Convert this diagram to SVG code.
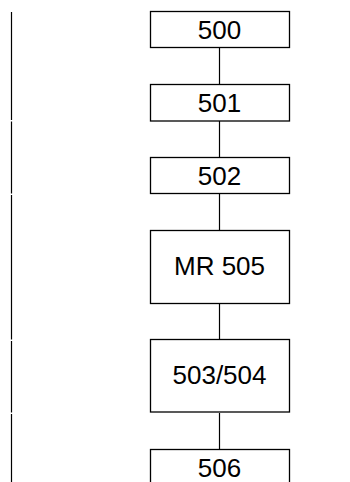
<svg xmlns="http://www.w3.org/2000/svg" width="350" height="482" viewBox="0 0 350 482">
<style>
.box{fill:#fff;stroke:#000;stroke-width:1.3}
.lbl{font-family:"Liberation Sans",Arial,sans-serif;font-size:26px;fill:#000;text-anchor:middle}
.con{stroke:#000;stroke-width:1.2;fill:none}
</style>
<rect width="350" height="482" fill="#fff"/>
<g id="margin" class="con">
<line x1="11.5" y1="12" x2="11.5" y2="120"/>
<line x1="11.5" y1="121.5" x2="11.5" y2="193.5"/>
<line x1="11.5" y1="195" x2="11.5" y2="339.5"/>
<line x1="11.5" y1="341" x2="11.5" y2="412.5"/>
<line x1="11.5" y1="414" x2="11.5" y2="482"/>
</g>
<g id="connectors" class="con">
<line x1="219.5" y1="47.5" x2="219.5" y2="84.5"/>
<line x1="219.5" y1="121" x2="219.5" y2="157.5"/>
<line x1="219.5" y1="194" x2="219.5" y2="230.5"/>
<line x1="219.5" y1="303.5" x2="219.5" y2="339.5"/>
<line x1="219.5" y1="413" x2="219.5" y2="449.5"/>
</g>
<g id="n500"><rect class="box" x="150.5" y="11.5" width="139" height="36"/><text class="lbl" x="219.5" y="39.3">500</text></g>
<g id="n501"><rect class="box" x="150.5" y="84.5" width="139" height="36.5"/><text class="lbl" x="219.5" y="111.7">501</text></g>
<g id="n502"><rect class="box" x="150.5" y="157.5" width="139" height="36"/><text class="lbl" x="219.5" y="185">502</text></g>
<g id="n505"><rect class="box" x="150.5" y="230.5" width="139" height="73"/><text class="lbl" x="219.5" y="275">MR 505</text></g>
<g id="n503"><rect class="box" x="150.5" y="339.5" width="139" height="72.5"/><text class="lbl" x="219.5" y="384.3">503/504</text></g>
<g id="n506"><rect class="box" x="150.5" y="449.5" width="139" height="40"/><text class="lbl" x="219.5" y="476.7">506</text></g>
</svg>
